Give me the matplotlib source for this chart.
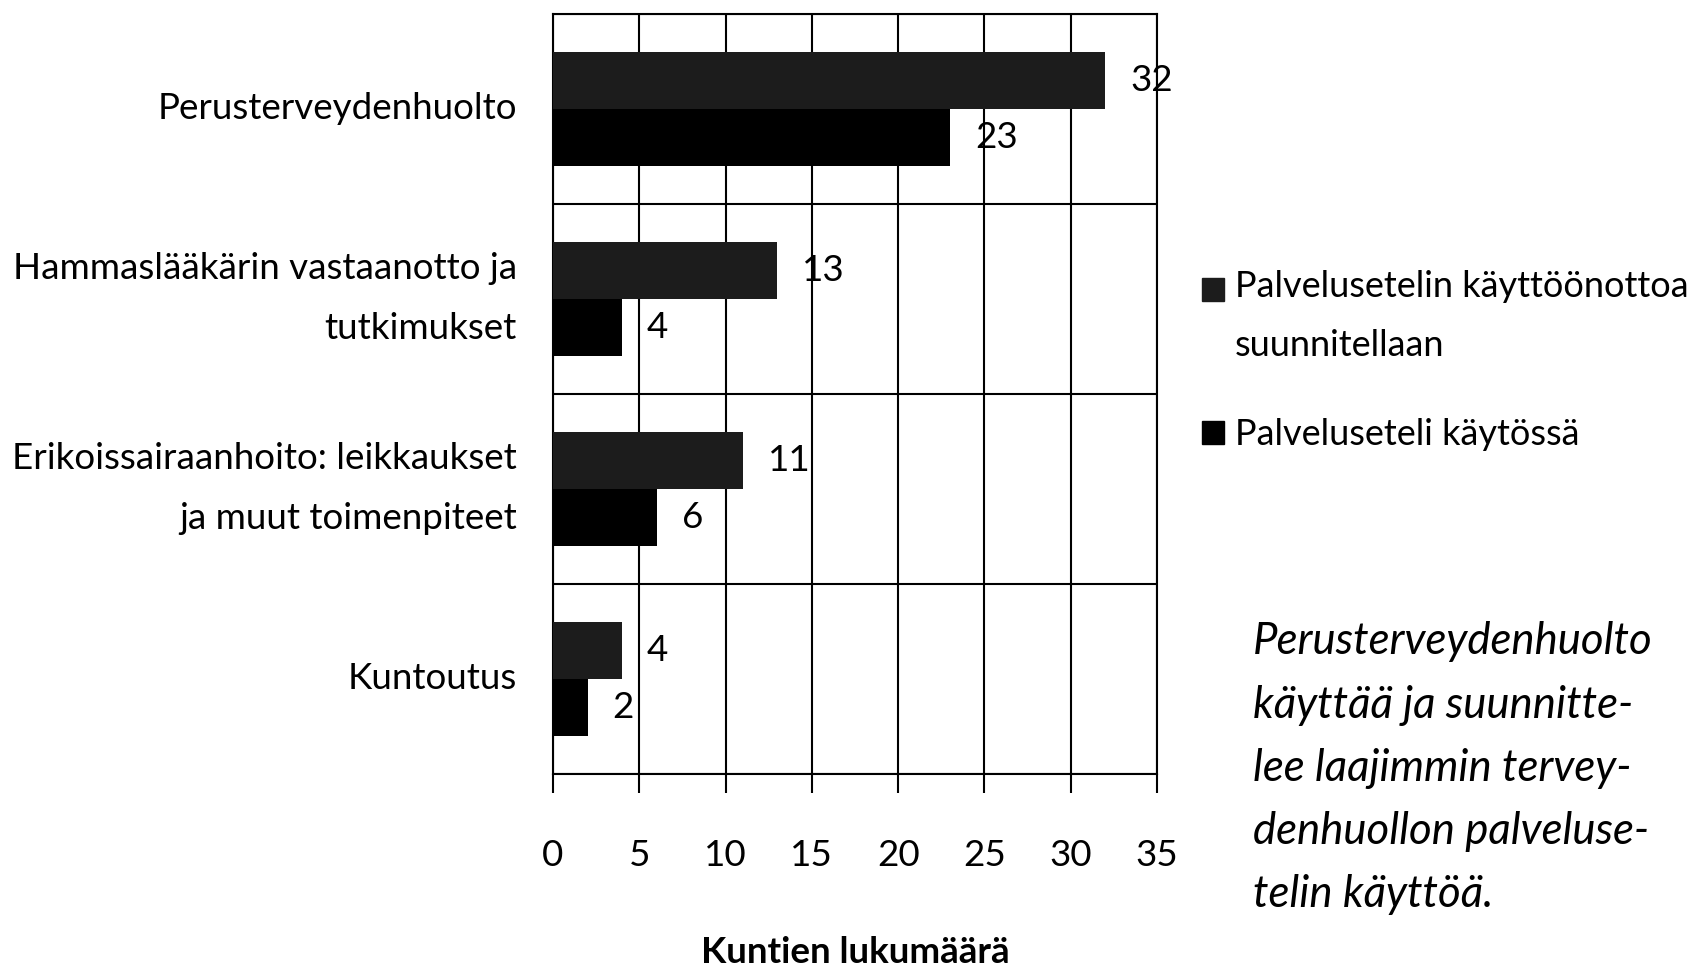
import numpy as np
import matplotlib
matplotlib.use("Agg")
import matplotlib.pyplot as plt
from matplotlib.patches import Patch, Rectangle
from matplotlib.legend_handler import HandlerPatch

plt.rcParams['font.family'] = ['Lato', 'DejaVu Sans']

categories = ["Perusterveydenhuolto",
              "Hammaslääkärin vastaanotto ja\ntutkimukset",
              "Erikoissairaanhoito: leikkaukset\nja muut toimenpiteet",
              "Kuntoutus"]
planned = [32, 13, 11, 4]   # Palvelusetelin käyttöönottoa suunnitellaan
in_use = [23, 4, 6, 2]      # Palveluseteli käytössä
series_names = ["Palvelusetelin käyttöönottoa\nsuunnitellaan", "Palveluseteli käytössä"]
xticks = [0, 5, 10, 15, 20, 25, 30, 35]
note = ("Perusterveydenhuolto\nkäyttää ja suunnitte-\nlee laajimmin tervey-\n"
        "denhuollon palveluse-\ntelin käyttöä.")

FS = 26.5
fig = plt.figure(figsize=(16.98, 9.71), dpi=100)
ax = fig.add_axes([0.3257, 0.2029, 0.3557, 0.7827])

y = np.arange(len(categories))
h = 0.3
ax.barh(y - h / 2, planned, height=h, color="#1c1c1c", zorder=3)
ax.barh(y + h / 2, in_use, height=h, color="black", zorder=3)
for yi, v in zip(y, planned):
    ax.annotate(str(v), (v, yi - h / 2), xytext=(18, 0), textcoords="offset points",
                va="center", ha="left", fontsize=FS)
for yi, v in zip(y, in_use):
    ax.annotate(str(v), (v, yi + h / 2), xytext=(18, 0), textcoords="offset points",
                va="center", ha="left", fontsize=FS)

ax.set_xlim(0, 35)
ax.set_ylim(3.5, -0.5)
ax.set_xticks(xticks)
ax.set_xticklabels([str(t) for t in xticks], fontsize=FS)
ax.tick_params(axis="x", direction="out", length=14, width=1.5, pad=33)
ax.set_yticks(y)
ax.set_yticklabels(categories, fontsize=FS, ha="right", va="center", linespacing=2.0)
ax.tick_params(axis="y", length=0, pad=26)
ax.set_yticks(np.arange(-0.5, 4.0, 1), minor=True)
ax.tick_params(axis="y", which="minor", length=0)
ax.grid(axis="x", color="black", lw=1.5, zorder=0)
ax.grid(axis="y", which="minor", color="black", lw=1.5, zorder=0)
for s in ax.spines.values():
    s.set_linewidth(1.5)
ax.set_xlabel("Kuntien lukumäärä", fontsize=FS, fontweight="bold", labelpad=46)


# square of the two-line entry sits on its first line
def first_line_patch(legend, orig_handle, xdescent, ydescent, width, height, fontsize):
    return Rectangle((-xdescent, -ydescent + 20), width, height)


handles = [Patch(color="#1c1c1c"), Patch(color="black")]
leg = fig.legend(handles, series_names, loc="upper left", bbox_to_anchor=(0.689, 0.755),
                 frameon=False, fontsize=26, handlelength=0.6, handleheight=0.6,
                 handletextpad=0.3, labelspacing=1.55,
                 handler_map={handles[0]: HandlerPatch(patch_func=first_line_patch)})
for t in leg.get_texts():
    t.set_linespacing(1.95)

fig.text(0.738, 0.36, note, fontsize=31.5, style="italic", va="top", ha="left",
         linespacing=1.67)

fig.savefig("out.png", dpi=100)
